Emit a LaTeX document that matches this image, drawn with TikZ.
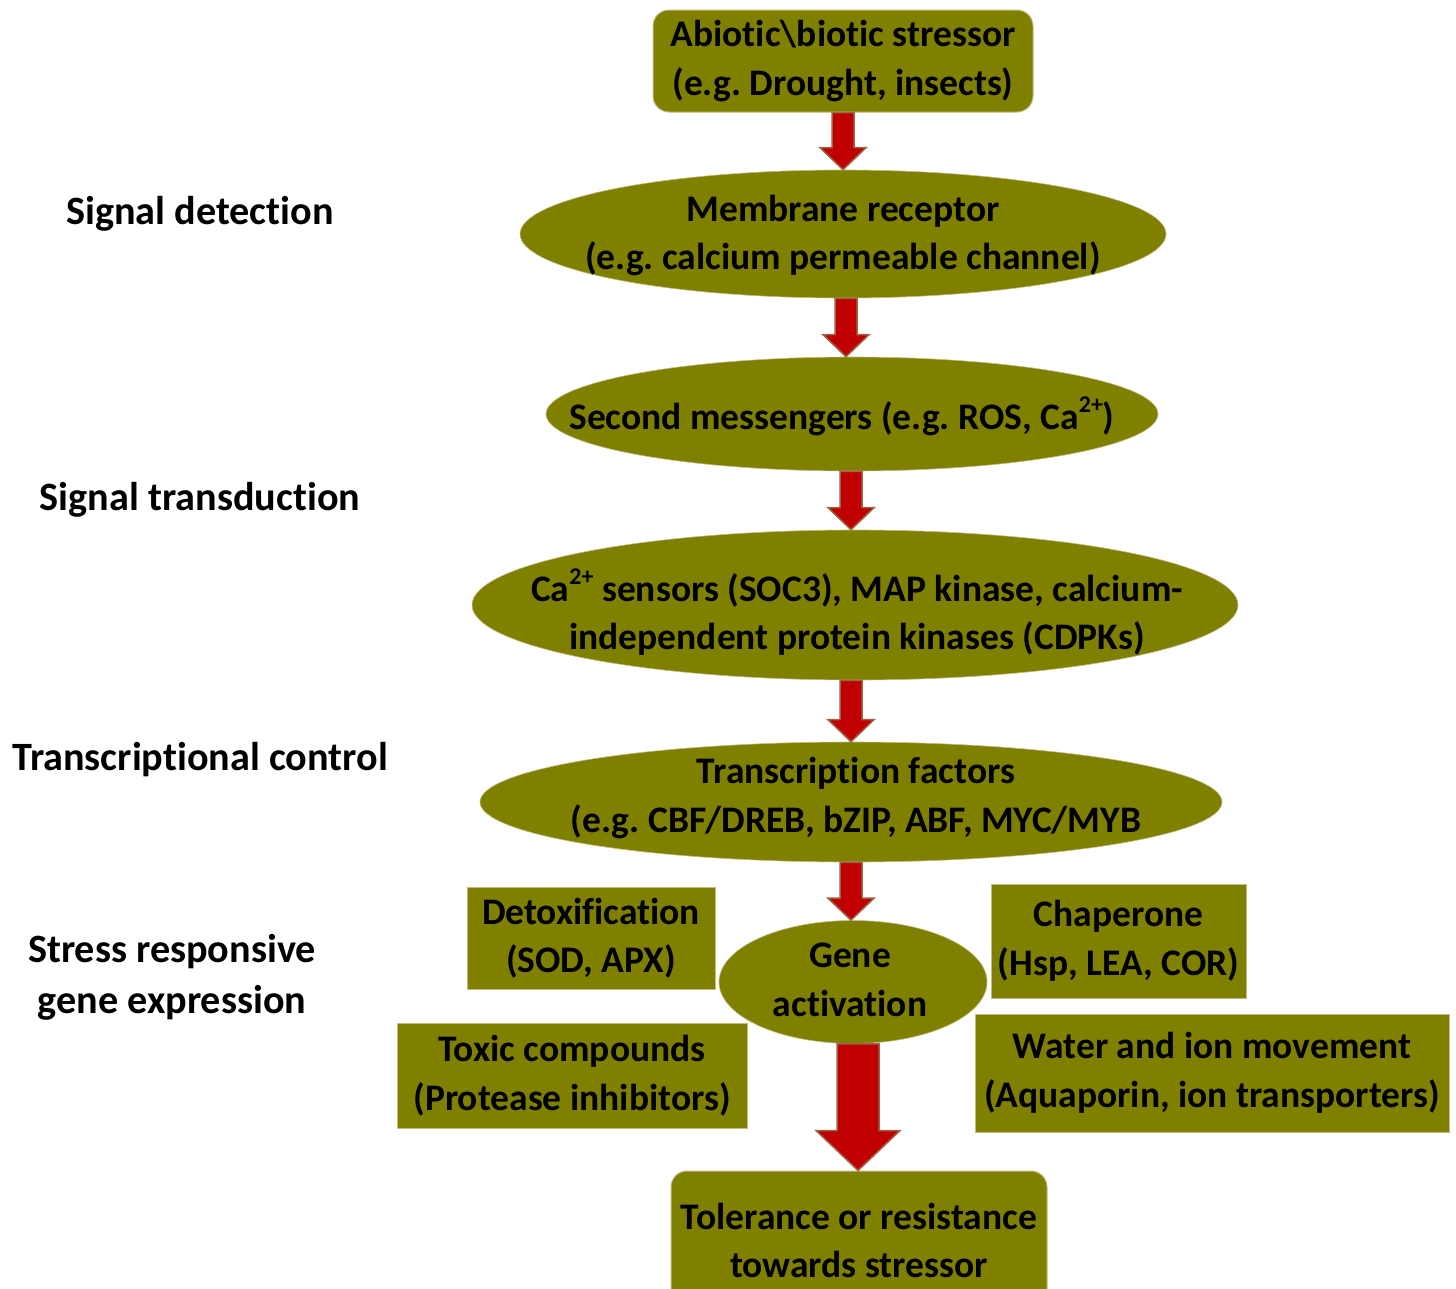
\documentclass[tikz,border=0pt]{standalone}
\usepackage{fontspec}
\setmainfont{Carlito}[Ligatures=NoCommon]
\usetikzlibrary{shapes.geometric,calc}
\definecolor{olivebox}{RGB}{128,128,0}
\definecolor{boxline}{RGB}{196,186,130}
\definecolor{arrowred}{RGB}{192,0,0}
\definecolor{arrowline}{RGB}{156,100,70}
\frenchspacing
\newcommand\supr[1]{\raisebox{0.45em}{\fontsize{24}{24}\selectfont #1}}
\tikzset{
  txt/.style={font=\bfseries\fontsize{37.5}{48.5}\selectfont, align=center, inner sep=0pt, text=black},
  sidelabel/.style={txt, font=\bfseries\fontsize{40.2}{51}\selectfont},
  ebox/.style={ellipse, fill=olivebox, draw=boxline, line width=0.6pt, inner sep=0pt},
  rbox/.style={rectangle, fill=olivebox, draw=boxline, line width=1pt, txt},
  rrbox/.style={rbox, rounded corners=16pt},
  blockarrow/.style={fill=arrowred, draw=arrowline, line width=1.5pt, line join=miter},
}
\newcommand\blockarr[6]{%
  \path[blockarrow] let \p1=(#1), \p2=(#2) in
    (\x1+#3-#4,\y1) -- (\x1+#3+#4,\y1) -- (\x1+#3+#4,\y2+#6) -- (\x1+#3+#5,\y2+#6)
    -- (\x1+#3,\y2) -- (\x1+#3-#5,\y2+#6) -- (\x1+#3-#4,\y2+#6) -- cycle;}
\begin{document}
\begin{tikzpicture}[x=1pt,y=-1pt]
\useasboundingbox (0,0) rectangle (1456,1288);
\begin{scope}
\clip (0,0) rectangle (1456,1288);
% boxes
\node[rrbox, minimum width=380pt, minimum height=102pt] (top) at (843,61) {Abiotic\textbackslash biotic stressor\\(e.g. Drought, insects)};
\node[ebox, minimum width=646pt, minimum height=128pt] (mr) at (843,234) {};
\node[txt] (mrt) at (843,235.5) {Membrane receptor\\(e.g. calcium permeable channel)};
\node[ebox, minimum width=612pt, minimum height=114pt] (sm) at (852,414) {};
\node[txt] (smt) at (842,416) {Second messengers (e.g. ROS, Ca\supr{2+})};
\node[ebox, minimum width=766pt, minimum height=150pt] (ca) at (855,605) {};
\node[txt] (cat) at (857,612) {Ca\supr{2+} sensors (SOC3), MAP kinase, calcium-\\independent protein kinases (CDPKs)};
\node[ebox, minimum width=742pt, minimum height=120pt] (tf) at (851,802) {};
\node[txt] (tft) at (856,798) {Transcription factors\\(e.g. CBF/DREB, bZIP, ABF, MYC/MYB};
\node[ebox, minimum width=268pt, minimum height=123pt] (ga) at (853,982) {};
\node[txt] (gat) at (850,980) {Gene\\activation};
\node[rbox, minimum width=248pt, minimum height=102pt] (detox) at (591,938) {Detoxification\\(SOD, APX)};
\node[rbox, minimum width=350pt, minimum height=105pt] (toxic) at (572,1075.5) {Toxic compounds\\(Protease inhibitors)};
\node[rbox, minimum width=255pt, minimum height=114pt] (chap) at (1118.5,941) {Chaperone\\(Hsp, LEA, COR)};
\node[rbox, minimum width=474pt, minimum height=118pt] (water) at (1212,1073) {Water and ion movement\\(Aquaporin, ion transporters)};
\node[rrbox, minimum width=376pt, minimum height=139pt] (tol) at (859,1240.5) {Tolerance or resistance\\towards stressor};
% left labels
\node[sidelabel] (l1) at (200,214) {Signal detection};
\node[sidelabel] (l2) at (200,500) {Signal transduction};
\node[sidelabel] (l3) at (200,760) {Transcriptional control};
\node[sidelabel] (l4) at (172,977) {Stress responsive\\gene expression};
% arrows
\blockarr{top.south}{mr.north}{0pt}{11pt}{23pt}{22pt}
\blockarr{mr.south}{sm.north}{3pt}{11pt}{23pt}{22pt}
\blockarr{sm.south}{ca.north}{-1pt}{11pt}{23pt}{22pt}
\blockarr{ca.south}{tf.north}{-4pt}{11pt}{23pt}{22pt}
\blockarr{tf.south}{ga.north}{0pt}{11pt}{23pt}{22pt}
\blockarr{ga.south}{tol.north}{5pt}{21pt}{42pt}{40pt}
\end{scope}
\end{tikzpicture}
\end{document}
